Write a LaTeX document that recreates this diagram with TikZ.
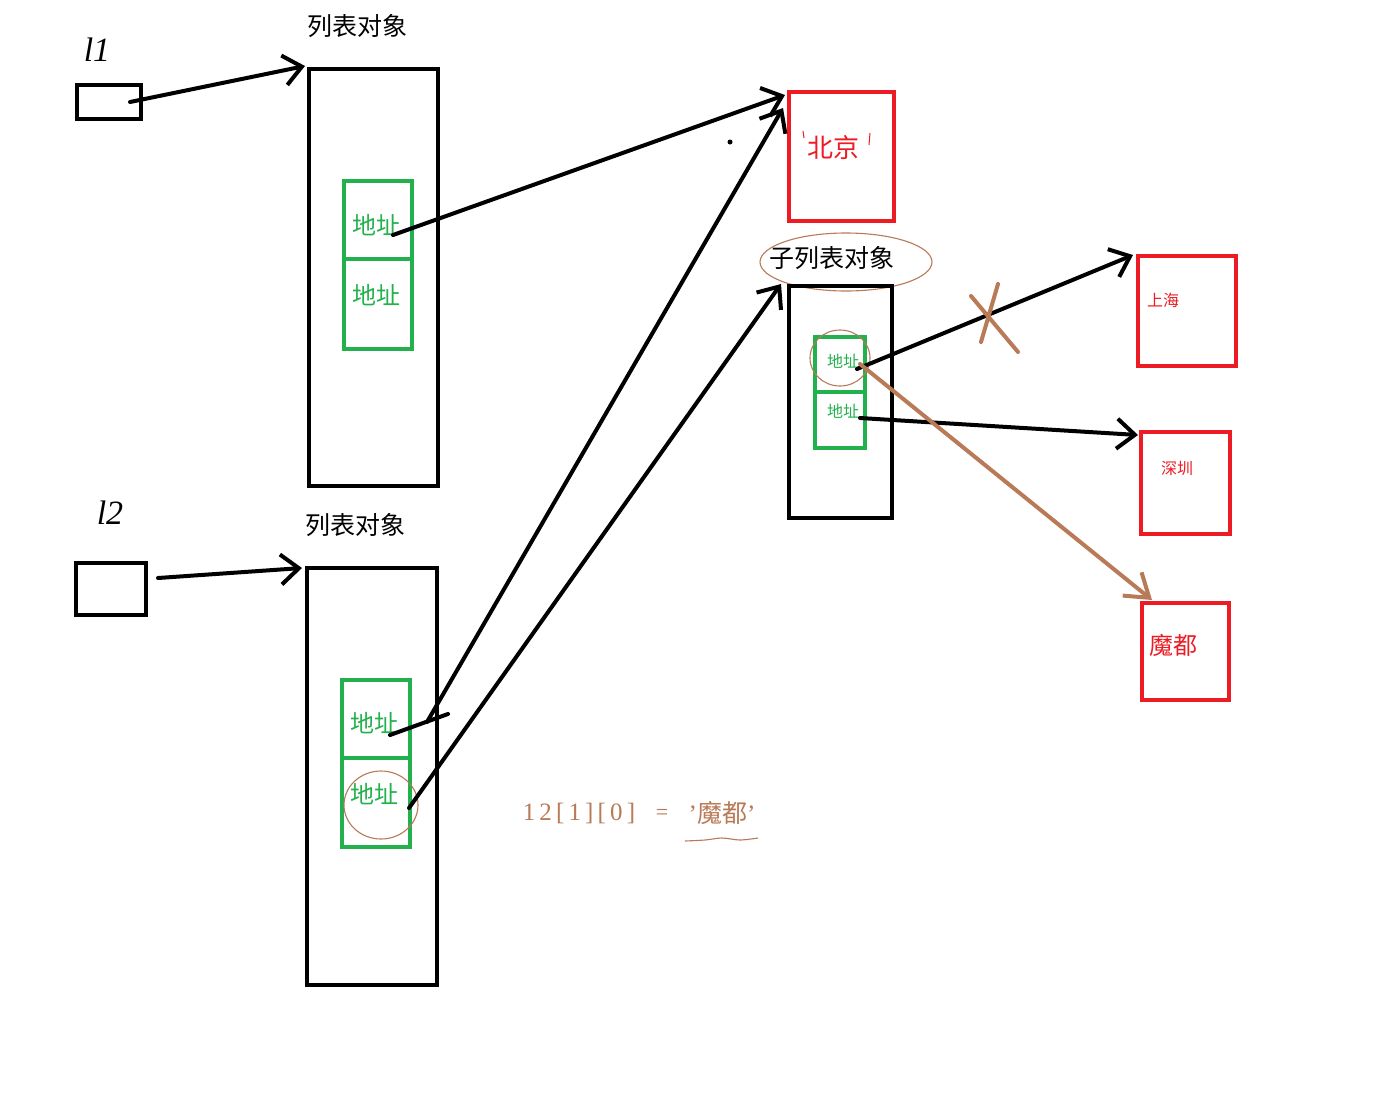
\documentclass[tikz,border=0pt]{standalone}
\usepackage{fontspec}
\setmainfont{Liberation Serif}
\newfontfamily\cjk{Noto Sans CJK SC}
\usetikzlibrary{arrows.meta,calc}
\definecolor{pgreen}{HTML}{22B14C}
\definecolor{pred}{HTML}{ED1C24}
\definecolor{pbrown}{HTML}{B97A57}
\begin{document}
\begin{tikzpicture}[x=1pt,y=-1pt,
  blackbox/.style={draw=black,line width=4pt,anchor=north west,inner sep=0pt,outer sep=0pt},
  greencell/.style={draw=pgreen,line width=4pt,anchor=north west,inner sep=0pt,outer sep=0pt},
  redbox/.style={draw=pred,line width=4pt,anchor=north west,inner sep=0pt,outer sep=0pt},
  title/.style={font=\cjk\fontsize{25}{25}\selectfont,text=black,inner sep=0pt},
  addr/.style={font=\cjk\fontsize{24}{24}\selectfont,text=pgreen,inner sep=0pt},
  saddr/.style={font=\cjk\fontsize{16}{16}\selectfont,text=pgreen,inner sep=0pt},
  city/.style={font=\cjk\fontsize{#1}{#1}\selectfont,text=pred,inner sep=0pt},
  hand/.style={font=\fontsize{34}{34}\selectfont\itshape,inner sep=0pt},
  ptr/.style={draw=black,line width=4pt,line cap=round,-{Straight Barb[length=18pt,width=30pt,line width=4pt]}},
  bptr/.style={draw=pbrown,line width=4pt,line cap=round,-{Straight Barb[length=22pt,width=30pt,line width=4pt]}},
  loop/.style={draw=pbrown,line width=1.1pt}
]
\useasboundingbox[fill=white] (0,0) rectangle (1377,1104);

% variables
\node[blackbox,minimum width=64pt,minimum height=34pt] (l1) at (77,85) {};
\node[hand] (l1lab) at (97,50) {l1};
\node[blackbox,minimum width=70pt,minimum height=52pt] (l2) at (76,563) {};
\node[hand] (l2lab) at (110,513) {l2};

% list object 1
\node[title] (t1) at (357,26) {列表对象};
\node[blackbox,minimum width=129pt,minimum height=417pt] (L1) at (309,69) {};
\node[greencell,minimum width=68pt,minimum height=78pt] (c11) at (344,181) {};
\node[greencell,minimum width=68pt,minimum height=90pt] (c12) at (344,259) {};
\node[addr] (a11) at (376,225) {地址};
\node[addr] (a12) at (376,295) {地址};

% list object 2
\node[title] (t2) at (355,525) {列表对象};
\node[blackbox,minimum width=130pt,minimum height=417pt] (L2) at (307,568) {};
\node[greencell,minimum width=68pt,minimum height=78pt] (c21) at (342,680) {};
\node[greencell,minimum width=68pt,minimum height=89pt] (c22) at (342,758) {};
\node[addr] (a21) at (374,723) {地址};
\node[addr] (a22) at (374,794) {地址};
\draw[loop] (381,805) ellipse [x radius=37pt,y radius=34pt];

% Beijing
\node[redbox,minimum width=105pt,minimum height=129pt] (bj) at (789,92) {};
\node[city=26] (bjt) at (833,148) {北京};
\draw[pred,line width=1pt] (803,131) -- (804,138) (870,133) -- (869,145);

% sub list
\node[title] (t3) at (832,258) {子列表对象};
\draw[loop] (846,262) ellipse [x radius=86pt,y radius=29pt];
\node[blackbox,minimum width=103pt,minimum height=232pt] (S) at (789,286) {};
\node[greencell,minimum width=50pt,minimum height=55pt] (s1) at (815,337) {};
\node[greencell,minimum width=50pt,minimum height=56pt] (s2) at (815,392) {};
\node[saddr] (sa1) at (843,361) {地址};
\node[saddr] (sa2) at (843,411) {地址};
\draw[loop] (840,358) ellipse [x radius=30pt,y radius=28pt];

% cities
\node[redbox,minimum width=98pt,minimum height=110pt] (sh) at (1138,256) {};
\node[city=16] (sht) at (1163,300) {上海};
\node[redbox,minimum width=89pt,minimum height=102pt] (sz) at (1141,432) {};
\node[city=16] (szt) at (1177,468) {深圳};
\node[redbox,minimum width=87pt,minimum height=97pt] (md) at (1142,603) {};
\node[city=24] (mdt) at (1173,645) {魔都};

% arrow endpoints
\coordinate (p1) at (130,102);
\coordinate (p2) at (158,578);
\coordinate (q11) at (393,235);
\coordinate (q21) at (390,735);
\coordinate (q21b) at (448,714);
\coordinate (q21c) at (427,722);
\coordinate (q22) at (409,808);
\coordinate (r1) at (857,369);
\coordinate (r2) at (860,418);
\coordinate (r3) at (860,364);

\draw[ptr] (p1) -- ($(L1.north west)+(-4,-3)$);
\draw[ptr] (p2) -- ($(L2.north west)+(-5,0)$);
\draw[ptr] (q11) -- ($(bj.north west)+(-4,3)$);
\draw[black,line width=4pt,line cap=round] (q21) -- (q21b);
\draw[ptr] (q21c) -- ($(bj.north west)+(-6,16)$);
\draw[ptr] (q22) -- ($(S.north west)+(-8,-2)$);
\draw[ptr] (r1) -- ($(sh.north west)+(-5,-1)$);
\draw[ptr] (r2) -- ($(sz.north west)+(-3,3)$);
\draw[bptr] (r3) -- ($(md.north west)+(10,-3)$);

% cross mark
\draw[pbrown,line width=4pt,line cap=round] (971,296) -- (1018,352) (998,284) -- (981,342);

% stray dot
\fill[black] (730,142) circle (2.5pt);

% formula
\node[font=\fontsize{25}{25}\selectfont,text=pbrown,inner sep=0pt] (f1) at (579,813) {1\,2\,[\,1\,]\,[\,0\,]};
\node[font=\fontsize{22}{22}\selectfont,text=pbrown,inner sep=0pt] (f2) at (662,814) {=};
\node[font=\fontsize{25}{25}\selectfont,text=pbrown,inner sep=0pt] (f3) at (722,813) {’{\cjk 魔都}’};
\draw[pbrown,line width=1.1pt] plot[smooth] coordinates {(685,841) (705,840) (722,838) (740,840) (758,838)};
\end{tikzpicture}
\end{document}
